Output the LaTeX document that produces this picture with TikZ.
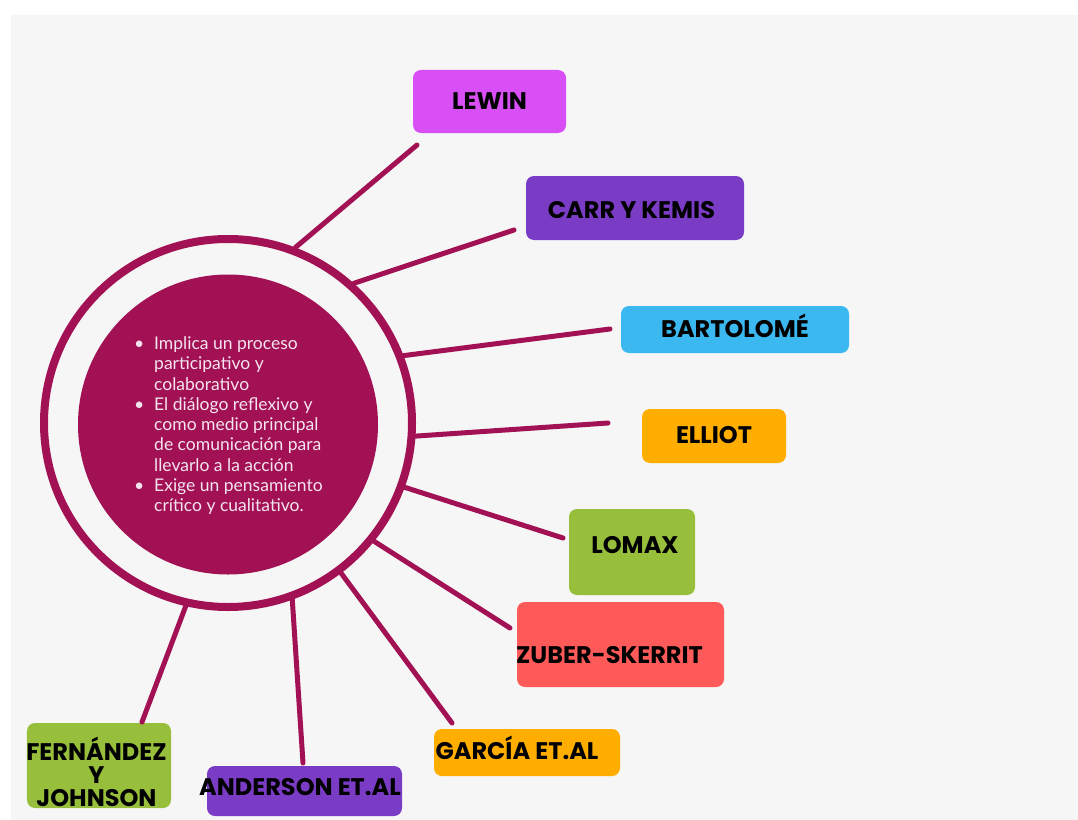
\documentclass[tikz,border=0pt]{standalone}
\usepackage{fontspec}
\setmainfont{Lato}
\newfontfamily\tagfont{Poppins}
\definecolor{paper}{HTML}{F6F6F6}
\definecolor{crim}{HTML}{A31155}
\definecolor{softwhite}{HTML}{F4E4EE}
\definecolor{cLewin}{HTML}{D84FF6}
\definecolor{cViolet}{HTML}{7B3CC5}
\definecolor{cSky}{HTML}{3BB8F0}
\definecolor{cAmber}{HTML}{FFAE00}
\definecolor{cLime}{HTML}{97BF3B}
\definecolor{cCoral}{HTML}{FF5A5A}
\newcommand{\itemline}[1]{\makebox[20bp][l]{\textbullet}#1}
\newcommand{\contline}[1]{\makebox[20bp][l]{}#1}
\begin{document}
\begin{tikzpicture}[x=1bp,y=-1bp,
  link/.style={draw=crim, line width=5bp, line cap=round},
  tagbox/.style={rectangle, rounded corners=8bp, inner sep=0pt},
  tagtext/.style={font=\tagfont\bfseries\fontsize{24bp}{23bp}\selectfont,
    text=black, inner sep=0pt, text height=16.8bp, text depth=0pt}]
\useasboundingbox (0,0) rectangle (1078,820);
\fill[white] (0,0) rectangle (1078,820);
\fill[paper] (11,15) rectangle (1078,820);

% central ring and disc
\node[circle, draw=crim, line width=8bp, minimum size=368bp, inner sep=0pt] (ring) at (228,423) {};
\node[circle, fill=crim, minimum size=300bp, inner sep=0pt] (core) at (228,424.5) {};
\node[anchor=base west, inner sep=0pt, text=softwhite,
      font=\fontsize{17.5bp}{20.25bp}\selectfont] (notes) at (134,349.5)
  {\begin{tabular}[t]{@{}l@{}}
    \itemline{Implica un proceso}\\
    \contline{participativo y}\\
    \contline{colaborativo}\\
    \itemline{El diálogo reflexivo y}\\
    \contline{como medio principal}\\
    \contline{de comunicación para}\\
    \contline{llevarlo a la acción}\\
    \itemline{Exige un pensamiento}\\
    \contline{crítico y cualitativo.}
  \end{tabular}};

% author boxes
\node[tagbox, fill=cLewin, minimum width=153bp, minimum height=63bp,
      label={[tagtext]center:LEWIN}] (lewin) at (489.5,101.5) {};
\node[tagbox, fill=cViolet, minimum width=218bp, minimum height=64bp,
      label={[tagtext, xshift=-3.5bp, yshift=-2.5bp]center:CARR Y KEMIS}] (carr) at (635,208) {};
\node[tagbox, fill=cSky, minimum width=228bp, minimum height=47bp,
      label={[tagtext]center:BARTOLOMÉ}] (bartolome) at (735,329.5) {};
\node[tagbox, fill=cAmber, minimum width=144bp, minimum height=54bp,
      label={[tagtext, yshift=1bp]center:ELLIOT}] (elliot) at (714,436) {};
\node[tagbox, fill=cLime, minimum width=126bp, minimum height=86bp,
      label={[tagtext, xshift=3bp, yshift=6.5bp]center:LOMAX}] (lomax) at (632,552) {};
\node[tagbox, fill=cCoral, minimum width=207bp, minimum height=85bp,
      label={[tagtext, xshift=-11bp, yshift=-10.5bp]center:ZUBER-SKERRIT}] (zuber) at (620.5,644.5) {};
\node[tagbox, fill=cAmber, minimum width=186bp, minimum height=47bp,
      label={[tagtext, xshift=-10bp, yshift=1.5bp]center:GARCÍA ET.AL}] (garcia) at (527,752.5) {};
\node[tagbox, fill=cViolet, minimum width=195bp, minimum height=50bp,
      label={[tagtext, xshift=-4.5bp, yshift=3.5bp]center:ANDERSON ET.AL}] (anderson) at (304.5,791) {};
\node[tagbox, fill=cLime, minimum width=144bp, minimum height=85bp,
      label={[tagtext, align=center, text height=62.8bp, text depth=0bp, xshift=-2.5bp, yshift=-9.5bp]center:FERNÁNDEZ\\Y\\JOHNSON}] (fernandez) at (99,765.5) {};

% free ends of the spokes
\coordinate (lewinEnd) at (417,145);
\coordinate (carrEnd) at (514,230);
\coordinate (bartolomeEnd) at (610,329);
\coordinate (elliotEnd) at (608,423);
\coordinate (lomaxEnd) at (563,538);
\coordinate (zuberEnd) at (510,628);
\coordinate (garciaEnd) at (452,723);
\coordinate (andersonEnd) at (303,763);
\coordinate (fernandezEnd) at (142,722);

% spokes
\draw[link] (ring.69.4) -- (lewinEnd);
\draw[link] (ring.48.8) -- (carrEnd);
\draw[link] (ring.21.6) -- (bartolomeEnd);
\draw[link] (ring.-4.5) -- (elliotEnd);
\draw[link] (ring.-20.5) -- (lomaxEnd);
\draw[link] (ring.-39.1) -- (zuberEnd);
\draw[link] (ring.-53.3) -- (garciaEnd);
\draw[link] (ring.-70.4) -- (andersonEnd);
\draw[link] (ring.-103) -- (fernandezEnd);
\end{tikzpicture}
\end{document}
